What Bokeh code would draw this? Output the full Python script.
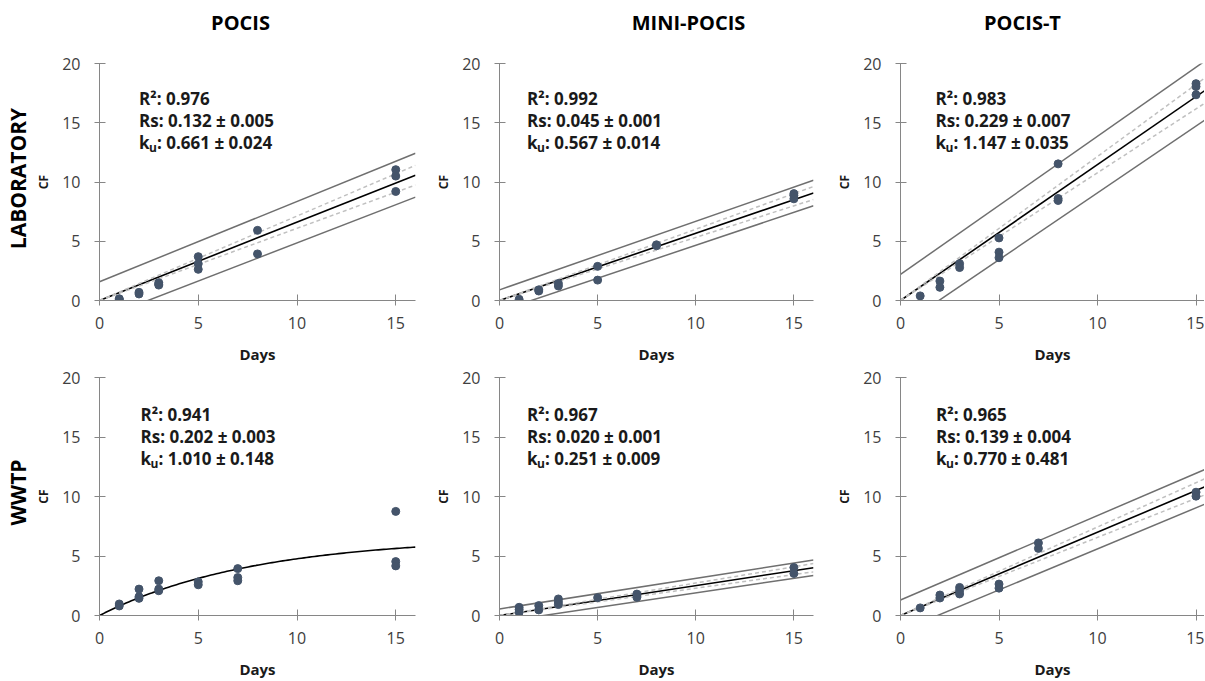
import numpy as np
from bokeh.plotting import figure
from bokeh.layouts import column, row
from bokeh.models import Range1d, Label
from bokeh.core.properties import value
from bokeh.embed import file_html
from bokeh.resources import INLINE

# ---------------- data ----------------
col_titles = ["POCIS", "MINI-POCIS", "POCIS-T"]
row_titles = ["LABORATORY", "WWTP"]
x_ticks = [0, 5, 10, 15]
y_ticks = [0, 5, 10, 15, 20]

# LABORATORY row
lab_pocis_day = [1, 1, 2, 2, 3, 3, 3, 5, 5, 5, 8, 8, 15, 15, 15]
lab_pocis_cf = [0.1, 0.15, 0.69, 0.55, 1.5, 1.38, 1.3, 3.7, 3.1, 2.63, 5.92, 3.93, 11.04, 10.5, 9.2]
lab_mini_day = [1, 2, 2, 3, 3, 5, 5, 8, 8, 15, 15, 15]
lab_mini_cf = [0.1, 0.8, 0.9, 1.44, 1.22, 2.88, 1.72, 4.62, 4.7, 9.02, 8.86, 8.58]
lab_pocist_day = [1, 2, 2, 3, 3, 5, 5, 5, 8, 8, 8, 15, 15, 15]
lab_pocist_cf = [0.39, 1.64, 1.11, 3.11, 2.78, 5.28, 4.08, 3.61, 11.53, 8.61, 8.44, 18.3, 18.05, 17.36]

# WWTP row
wwtp_pocis_day = [1, 1, 2, 2, 2, 3, 3, 3, 5, 5, 7, 7, 7, 15, 15, 15]
wwtp_pocis_cf = [0.97, 0.8, 2.22, 1.58, 1.44, 2.92, 2.22, 2.08, 2.83, 2.58, 3.94, 3.19, 2.92, 8.75, 4.53, 4.17]
wwtp_mini_day = [1, 1, 1, 2, 2, 3, 3, 3, 5, 7, 7, 15, 15]
wwtp_mini_cf = [0.69, 0.5, 0.28, 0.83, 0.47, 1.39, 1.15, 0.92, 1.5, 1.8, 1.53, 4.03, 3.53]
wwtp_pocist_day = [1, 2, 2, 3, 3, 3, 5, 5, 7, 7, 15, 15]
wwtp_pocist_cf = [0.64, 1.72, 1.47, 2.36, 2.1, 1.81, 2.64, 2.3, 6.1, 5.64, 10.36, 10.03]

# fitted slopes (linear panels)
fit_slope = [[0.661, 0.567, 1.147], [None, 0.251, 0.70]]
# WWTP POCIS curvilinear fit: CF = A * (1 - exp(-k t))
curve_A = 6.6
curve_k = 0.128
# prediction band half-widths at day 0 and day 16
pred_w0 = [[1.58, 0.90, 2.20], [None, 0.55, 1.30]]
pred_w16 = [[1.85, 1.08, 2.50], [None, 0.65, 1.46]]
# confidence band half-widths at day 16
conf_w16 = [[0.83, 0.55, 1.10], [None, 0.35, 0.70]]

r2_text = [["0.976", "0.992", "0.983"], ["0.941", "0.967", "0.965"]]
rs_text = [["0.132 ± 0.005", "0.045 ± 0.001", "0.229 ± 0.007"],
           ["0.202 ± 0.003", "0.020 ± 0.001", "0.139 ± 0.004"]]
ku_text = [["0.661 ± 0.024", "0.567 ± 0.014", "1.147 ± 0.035"],
           ["1.010 ± 0.148", "0.251 ± 0.009", "0.770 ± 0.481"]]

days = [[lab_pocis_day, lab_mini_day, lab_pocist_day],
        [wwtp_pocis_day, wwtp_mini_day, wwtp_pocist_day]]
cfs = [[lab_pocis_cf, lab_mini_cf, lab_pocist_cf],
       [wwtp_pocis_cf, wwtp_mini_cf, wwtp_pocist_cf]]

# ---------------- layout ----------------
FONT = "Open Sans"
TOTAL_W = 1204
TOP_H = 40
LEFT_W = 32
col_w = [395, 401, 376]
col_mbl = [67, 72, 72]
col_mbr = [12, 15, 0]
col_xend = [16, 16, 15.43]
col_title_px = [240, 688, 1022]      # title centres (pixels across the page)
stat_x = [[2.0, 1.4, 1.78], [2.08, 1.4, 1.8]]
stat_y = [[17.05, 15.15, 13.3], [16.85, 15.05, 13.2]]

row_h = [326, 315]
row_mbt = [23, 11]
row_mbb = [62, 63]
row_label_py = [178, 492]            # row label centres (pixels down the page)
row_label_px = [17.5, 17.5]

PT_COLOR = "#44546a"
AX_COLOR = "#868686"


def make_panel(ri, ci):
    p = figure(width=col_w[ci], height=row_h[ri],
               x_range=Range1d(0, col_xend[ci]), y_range=Range1d(0, 20),
               min_border_left=col_mbl[ci], min_border_right=col_mbr[ci],
               min_border_top=row_mbt[ri], min_border_bottom=row_mbb[ri],
               output_backend="svg", toolbar_location=None,
               background_fill_color="white", border_fill_color="white")
    p.outline_line_color = None
    p.grid.visible = False

    for ax in (p.xaxis, p.yaxis):
        ax.axis_line_color = AX_COLOR
        ax.major_tick_line_color = AX_COLOR
        ax.minor_tick_line_color = None
        ax.major_tick_in = 6
        ax.major_tick_out = 5
        ax.major_label_text_font = FONT
        ax.major_label_text_font_size = "16px"
        ax.major_label_text_color = "#404040"
        ax.axis_label_text_font = FONT
        ax.axis_label_text_font_style = "bold"
        ax.axis_label_text_color = "#1a1a1a"
    p.xaxis.ticker = x_ticks
    p.yaxis.ticker = y_ticks
    p.xaxis.axis_label = "Days"
    p.xaxis.axis_label_text_font_size = "15px"
    p.xaxis.major_label_standoff = 11
    p.xaxis.axis_label_standoff = 12
    p.yaxis.axis_label = "CF"
    p.yaxis.axis_label_text_font_size = "12px"
    p.yaxis.major_label_standoff = 14
    p.yaxis.axis_label_standoff = 7

    k = fit_slope[ri][ci]
    if k is None:
        t = np.linspace(0, 16, 120)
        p.line(t, curve_A * (1 - np.exp(-curve_k * t)), line_color="black", line_width=1.6)
    else:
        t = [0, 16]
        fit = [0, k * 16]
        w0, w16 = pred_w0[ri][ci], pred_w16[ri][ci]
        c16 = conf_w16[ri][ci]
        p.line(t, [w0, k * 16 + w16], line_color="#6f6f6f", line_width=1.5)
        p.line(t, [-w0, k * 16 - w16], line_color="#6f6f6f", line_width=1.5)
        p.line(t, fit, line_color="black", line_width=1.6)
        p.line(t, [0, k * 16 + c16], line_color="#c0c0c0", line_width=1.5, line_dash="4 3")
        p.line(t, [0, k * 16 - c16], line_color="#c0c0c0", line_width=1.5, line_dash="4 3")

    p.scatter(days[ri][ci], cfs[ri][ci], size=8, fill_color=PT_COLOR, line_color=PT_COLOR)

    sx = stat_x[ri][ci]
    sy = stat_y[ri]
    common = dict(text_font=FONT, text_font_size="17px", text_font_style="bold",
                  text_color="#1a1a1a", text_baseline="middle", text_align="left")
    p.add_layout(Label(x=sx, y=sy[0], text="R²: " + r2_text[ri][ci], **common))
    p.add_layout(Label(x=sx, y=sy[1], text="Rs: " + rs_text[ri][ci], **common))
    p.add_layout(Label(x=sx, y=sy[2], text="k", **common))
    sub = dict(common)
    sub["text_font_size"] = "12px"
    p.add_layout(Label(x=sx, y=sy[2], x_offset=10, y_offset=-5, text="u", **sub))
    p.add_layout(Label(x=sx, y=sy[2], x_offset=18, text=": " + ku_text[ri][ci], **common))
    return p


# strip with the column titles
top = figure(width=TOTAL_W, height=TOP_H, x_range=Range1d(0, TOTAL_W), y_range=Range1d(0, TOP_H),
             min_border=0, x_axis_location=None, y_axis_location=None,
             output_backend="svg", toolbar_location=None)
top.outline_line_color = None
top.grid.visible = False
top.text(x=col_title_px, y=[TOP_H - 22] * 3, text=col_titles, text_font=value(FONT),
         text_font_size="20px", text_font_style="bold", text_color="black",
         text_align="center", text_baseline="middle")

# strip with the row titles
body_h = sum(row_h)
left = figure(width=LEFT_W, height=body_h, x_range=Range1d(0, LEFT_W), y_range=Range1d(0, body_h),
              min_border=0, x_axis_location=None, y_axis_location=None,
              output_backend="svg", toolbar_location=None)
left.outline_line_color = None
left.grid.visible = False
left.text(x=row_label_px, y=[TOP_H + body_h - py for py in row_label_py], text=row_titles,
          angle=np.pi / 2, text_font=value(FONT), text_font_size="21px", text_font_style="bold",
          text_color="black", text_align="center", text_baseline="middle")

grid_rows = []
for ri in range(2):
    grid_rows.append(row(*[make_panel(ri, ci) for ci in range(3)], spacing=0))
body = row(left, column(*grid_rows, spacing=0), spacing=0)
layout = column(top, body, spacing=0)

open("out.html", "w").write(file_html(layout, INLINE))
